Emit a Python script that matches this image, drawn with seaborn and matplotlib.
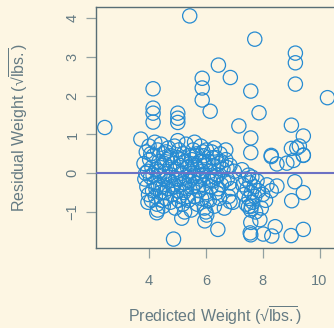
import matplotlib
matplotlib.use("Agg")
import matplotlib.pyplot as plt
import seaborn as sns
import pandas as pd

# Outlying / clearly visible points
x_out = [5.43, 7.72, 9.15, 9.15, 9.15, 6.44, 6.86, 5.87, 5.87, 5.87, 6.15, 7.58, 7.87, 10.28,
         4.14, 4.14, 4.14, 4.14, 5.01, 5.01, 5.01, 2.44, 7.16, 9.01, 9.43, 7.58, 3.71, 5.01,
         9.01, 9.29, 7.58, 8.30, 9.43,
         4.86, 6.42, 5.15, 5.96, 4.27, 7.58, 8.02, 8.32, 8.44, 9.00, 9.43, 7.58, 7.90,
         9.43, 9.02, 9.13, 8.50, 8.30, 8.10, 7.95, 7.60,
         8.30, 8.50, 8.85, 9.08, 9.43, 9.20, 7.27, 6.03, 6.85, 7.50, 7.56]
y_out = [4.06, 3.46, 3.10, 2.85, 2.30, 2.79, 2.47, 2.45, 2.20, 1.89, 1.60, 2.12, 1.56, 1.95,
         2.18, 1.68, 1.55, 1.32, 1.55, 1.42, 1.31, 1.18, 1.22, 1.24, 0.96, 0.91, 0.88, 0.84,
         0.64, 0.70, 0.53, 0.46, 0.46,
         -1.70, -1.45, -1.16, -1.23, -1.02, -1.59, -1.57, -1.62, -1.38, -1.61, -1.45, -1.27, -1.20,
         -0.50, -0.71, -0.22, -0.33, -0.45, -0.70, -0.90, -0.85,
         0.43, 0.24, 0.26, 0.33, 0.47, 0.65, 0.09, -1.08, -0.73, -0.86, -1.54]

# Dense central cluster
x_clu = [3.82, 3.85, 3.90, 3.92, 3.95, 3.98, 4.00, 4.02, 4.05, 4.08, 4.10, 4.12, 4.15, 4.18, 4.20, 4.22, 4.25, 4.28, 4.30, 4.32,
         4.35, 4.38, 4.40, 4.42, 4.45, 4.48, 4.50, 4.52, 4.55, 4.58, 4.60, 4.62, 4.65, 4.68, 4.70, 4.72, 4.75, 4.78, 4.80, 4.82, 4.85, 4.88, 4.90,
         4.92, 4.95, 4.98, 5.00, 5.02, 5.05, 5.08, 5.10, 5.12, 5.15, 5.18, 5.20, 5.22, 5.25, 5.28, 5.30, 5.32, 5.35, 5.38, 5.40, 5.42, 5.45, 5.48,
         5.50, 5.52, 5.55, 5.58, 5.60, 5.62, 5.65, 5.68, 5.70, 5.72, 5.75, 5.78, 5.80, 5.82, 5.85, 5.88, 5.90, 5.92, 5.95, 5.98, 6.00, 6.02, 6.05,
         6.10, 6.12, 6.15, 6.18, 6.20, 6.25, 6.28, 6.30, 6.35, 6.38, 6.40, 6.45, 6.48, 6.50, 6.55, 6.60, 6.65, 6.70, 6.75, 6.80, 6.85, 6.90, 6.95, 7.00,
         7.30, 7.35, 7.40, 7.42, 7.45, 7.50, 7.52, 7.55, 7.58, 7.60, 7.62, 7.65, 7.70, 7.72, 7.75, 7.80, 7.85, 8.00, 8.15,
         3.88, 3.96, 4.06, 4.14, 4.24, 4.34, 4.44, 4.54, 4.64, 4.74, 4.84, 4.94, 5.04, 5.14, 5.24, 5.34, 5.44, 5.54, 5.64, 5.74, 5.84, 5.94, 6.04,
         6.14, 6.24, 6.34, 6.44, 6.54, 6.64, 6.74, 6.84, 4.30, 4.60, 5.60, 5.90, 6.30, 6.70, 6.00, 5.25, 4.55]
y_clu = [0.25, -0.15, 0.55, -0.35, 0.05, -0.55, 0.70, 0.35, -0.10, -0.70, 0.15, -0.45, 0.45, -0.25, 0.80, -0.60, 0.10, -0.80, 0.60, -0.30,
         0.30, -0.05, -0.50, 0.75, 0.20, -0.35, -0.85, 0.50, -0.15, 0.05, -0.65, 0.35, -0.40, 0.65, -0.20, 0.15, -0.75, 0.45, -0.05, -0.55, 0.25, -0.30, 0.70,
         -0.90, 0.10, -0.45, 0.40, -0.15, 0.60, -0.60, 0.20, -0.30, 0.00, -0.80, 0.50, -0.50, 0.30, -0.10, 0.75, -0.40, 0.15, -0.70, 0.45, -0.20, 0.05, -0.95,
         0.35, -0.35, 0.60, -0.05, -0.60, 0.20, -0.25, 0.50, -0.80, 0.10, -0.45, 0.30, -0.15, 0.70, -0.65, 0.05, -0.30, 0.45, -0.90, 0.20, -0.50, 0.60, -0.10,
         0.30, -0.70, 0.05, -0.35, 0.55, -0.20, 0.20, -0.85, 0.40, -0.50, -0.05, 0.25, -0.65, 0.50, -0.30, 0.10, -0.90, 0.35, -0.15, -0.60, 0.20, -0.40, -0.75, 0.05,
         -0.30, -0.55, -0.15, -0.80, -0.40, -0.05, -0.65, -0.25, -0.95, -0.50, -0.10, -0.75, -0.35, -0.60, -1.00, -0.20, -0.45, -0.55, -0.30,
         0.00, -0.75, 0.50, -0.05, -0.40, 0.05, -0.70, 0.25, -0.10, 0.40, -0.35, -0.15, -0.70, 0.35, -0.25, -0.60, 0.25, -0.10, 0.45, -0.35, -0.05, 0.30, -0.70,
         -0.20, 0.40, -0.10, -0.40, 0.30, -0.20, 0.15, -0.25, -0.95, 0.55, 0.80, 0.55, 0.65, 0.60, -1.00, -1.00, -0.50]

x_ticks = [4, 6, 8, 10]
y_ticks = [-1, 0, 1, 2, 3, 4]

df = pd.DataFrame({"pred": x_out + x_clu, "resid": y_out + y_clu})

BG = "#fdf6e3"
BLUE = "#268bd2"
VIOLET = "#6c71c4"
TXT = "#657b83"
BOX = "#586e75"
TICK = "#93a1a1"

sns.set_theme(style="white")
plt.rcParams["font.family"] = ["Liberation Sans", "DejaVu Sans"]
plt.rcParams["mathtext.fontset"] = "custom"
plt.rcParams["mathtext.rm"] = "Liberation Sans"
plt.rcParams["mathtext.it"] = "Liberation Sans:italic"

fig = plt.figure(figsize=(3.34, 3.28), dpi=100, facecolor=BG)
ax = fig.add_axes([95.7 / 334, (328 - 248) / 328, 240.3 / 334, 241 / 328])
ax.set_facecolor(BG)

sns.scatterplot(data=df, x="pred", y="resid", ax=ax, s=105, marker="o",
                facecolor="none", edgecolor=BLUE, linewidth=0.9, zorder=2)
for c in ax.collections:
    c.set_facecolor("none")
    c.set_edgecolor(BLUE)
    c.set_linewidth(0.9)

ax.axhline(0, color=VIOLET, lw=1.5, zorder=3)

ax.set_xlim(2.12, 10.58)
ax.set_ylim(-1.93, 4.29)
ax.set_xticks(x_ticks)
ax.set_yticks(y_ticks)
ax.set_xticklabels([str(t) for t in x_ticks])
ax.set_yticklabels(["\u22121" if t < 0 else str(t) for t in y_ticks])

for sp in ax.spines.values():
    sp.set_visible(True)
    sp.set_color(BOX)
    sp.set_linewidth(1.0)

ax.tick_params(axis="both", direction="out", length=7.2, width=0.9, color=TICK,
               labelcolor=TXT, labelsize=10.5, bottom=True, left=True)
ax.tick_params(axis="x", pad=11.5)
ax.tick_params(axis="y", pad=4.5, labelrotation=90)
for lab in ax.get_yticklabels():
    lab.set_va("center")

ax.set_xlabel("Predicted Weight (\u221a$\\overline{\\mathrm{lbs.}}$)", color=TXT, fontsize=11.5)
ax.set_ylabel("Residual Weight (\u221a$\\overline{\\mathrm{lbs.}}$)", color=TXT, fontsize=11.5)
ax.xaxis.set_label_coords((215 - 95.7) / 240.3, (248 - 327) / 241)
ax.xaxis.label.set_va("bottom")
ax.yaxis.set_label_coords((19 - 95.7) / 240.3, 0.5)
ax.yaxis.label.set_va("center")

fig.savefig("out.png", dpi=100, facecolor=BG)
